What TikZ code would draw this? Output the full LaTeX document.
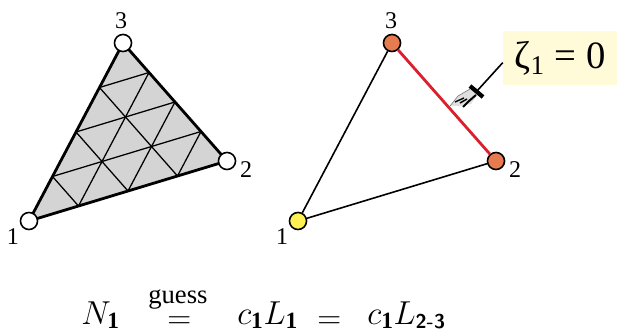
\documentclass[tikz,border=0pt]{standalone}
\usepackage{amsmath}
\usepackage{fontspec}
\setmainfont{Liberation Serif}
\usepackage{xcolor}
\usetikzlibrary{calc, positioning}

\definecolor{meshgray}{HTML}{D4D4D4}
\definecolor{nodeorange}{HTML}{E57B4E}
\definecolor{nodeyellow}{HTML}{FFF154}
\definecolor{notepale}{HTML}{FFFBD8}
\definecolor{edgered}{HTML}{DC1F2C}

\begin{document}
\begin{tikzpicture}[
    x=0.75pt, y=-0.75pt,
    vert/.style={draw, circle, line width=1.2pt, minimum size=12.8pt, inner sep=0pt},
    num/.style={font=\fontsize{18}{20}\selectfont, inner sep=0pt},
    eqn/.style={anchor=base west, inner sep=0pt, font=\fontsize{25}{30}\selectfont},
    edge/.style={line width=2.1pt},
    thin edge/.style={line width=1.2pt},
    grid line/.style={line width=0.95pt}
]
\useasboundingbox (0,0) rectangle (617,331);

% left triangle
\coordinate (a1) at (29,221);
\coordinate (a2) at (227,161);
\coordinate (a3) at (123,43);
\fill[meshgray] (a1) -- (a2) -- (a3) -- cycle;
\foreach \t/\n in {0.25/p, 0.5/q, 0.75/r} {
    \coordinate (\n12) at ($(a1)!\t!(a2)$);
    \coordinate (\n13) at ($(a1)!\t!(a3)$);
    \coordinate (\n23) at ($(a2)!\t!(a3)$);
    \coordinate (\n21) at ($(a2)!\t!(a1)$);
    \coordinate (\n31) at ($(a3)!\t!(a1)$);
    \coordinate (\n32) at ($(a3)!\t!(a2)$);
    \draw[grid line] (\n12) -- (\n13);
    \draw[grid line] (\n23) -- (\n21);
    \draw[grid line] (\n31) -- (\n32);
}
\draw[edge, line join=round] (a1) -- (a2) -- (a3) -- cycle;
\node[vert, fill=white] (v1) at (a1) {};
\node[vert, fill=white] (v2) at (a2) {};
\node[vert, fill=white] (v3) at (a3) {};
\node[num] (n1) at (13,237) {1};
\node[num] (n2) at (246,170) {2};
\node[num] (n3) at (121,21) {3};

% right triangle
\node[vert, fill=nodeyellow] (w1) at (298,221) {};
\node[vert, fill=nodeorange] (w2) at (496,161) {};
\node[vert, fill=nodeorange] (w3) at (392,43) {};
\draw[thin edge] (w1) -- (w2);
\draw[thin edge] (w1) -- (w3);
\draw[edge, edgered] (w2) -- (w3);
\node[num] (m1) at (282,237) {1};
\node[num] (m2) at (515,170) {2};
\node[num] (m3) at (391,21) {3};

% note and pointing hand
\node[fill=notepale, inner sep=0pt, minimum width=85.5pt, minimum height=40.5pt,
      font=\fontsize{29}{32}\selectfont] (note) at (560,58) {ζ\textsubscript{1} = 0};
\coordinate (cuff) at (477,91);
\draw[line width=1.2pt] ([yshift=-3.5pt]note.west) -- (cuff);
\fill[gray!25] (450,106) -- (458,96) -- (470,89) -- (477,95) -- (471,104) -- (461,106) -- cycle;
\draw[line width=0.5pt, gray] (450,106) -- (458,96) -- (470,89);
\draw[line width=1pt] (455,102) -- (464,98);
\draw[line width=1.5pt] (463,107) -- (469,101) -- (476,95);
\draw[line width=1.1pt] (460,103) -- (467,99);
\draw[line width=3.2pt] (470,86) -- (483,97);

% equation
\node[eqn] (lhs) at (81,324) {$N_{\mathbf{1}}$};
\node[eqn, font=\fontsize{20}{21}\selectfont] (guess) at (148,303) {guess};
\node[eqn] (eqa) at (167,328) {$=$};
\node[eqn] (mid) at (237,324) {$c_{\mathbf{1}}L_{\mathbf{1}}$};
\node[eqn] (eqb) at (317,328) {$=$};
\node[eqn] (rhs) at (367,324) {$c_{\mathbf{1}}L_{\text{\fontsize{15}{16}\selectfont\sffamily\bfseries 2-3}}$};
\end{tikzpicture}
\end{document}
